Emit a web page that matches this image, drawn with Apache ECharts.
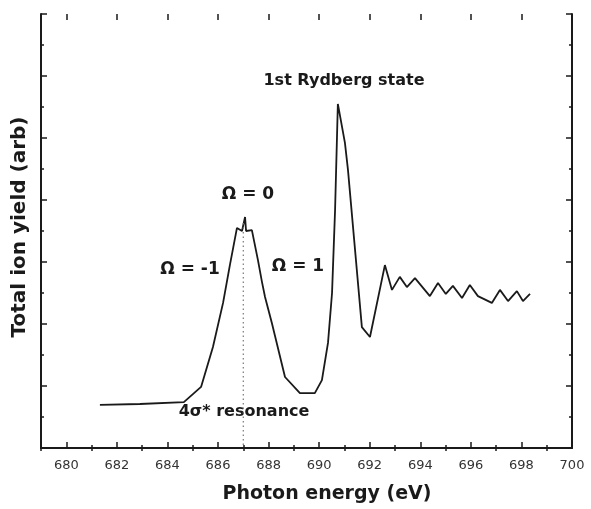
<!DOCTYPE html>
<html>
<head>
<meta charset="utf-8">
<script src="https://cdn.jsdelivr.net/npm/echarts@6/dist/echarts.min.js"></script>
<style>
html,body{margin:0;padding:0;background:#fff;}
#chart{width:591px;height:509px;}
</style>
</head>
<body>
<div id="chart"></div>
<script>
// Photon energy (eV) and total ion yield (arb)
const energy = [681.33, 682.91, 684.65, 685.33, 685.80, 686.20, 686.47, 686.75, 686.95, 687.07, 687.11, 687.34,
  687.58, 687.74, 687.86, 688.13, 688.65, 689.24, 689.83, 690.11, 690.35, 690.51, 690.63, 690.74,
  691.02, 691.14, 691.69, 692.01, 692.60, 692.88, 693.19, 693.47, 693.79, 694.38, 694.70, 695.01,
  695.29, 695.65, 695.96, 696.28, 696.83, 697.15, 697.47, 697.82, 698.06, 698.34];
const ionYield = [1.39, 1.42, 1.48, 1.97, 3.26, 4.68, 5.90, 7.10, 7.00, 7.45, 7.00, 7.03,
  6.06, 5.35, 4.87, 4.03, 2.29, 1.77, 1.77, 2.19, 3.39, 5.00, 7.68, 11.10,
  9.84, 8.97, 3.90, 3.58, 5.90, 5.10, 5.52, 5.19, 5.48, 4.90, 5.32, 4.97,
  5.23, 4.84, 5.26, 4.90, 4.68, 5.10, 4.74, 5.06, 4.74, 4.97];
// dotted marker of the 4σ* resonance
const resonanceX = [687, 687];
const resonanceY = [0.1, 7.3];
// tick values
const xMajorTicks = [680, 682, 684, 686, 688, 690, 692, 694, 696, 698, 700];
const xMinorTicks = [679, 681, 683, 685, 687, 689, 691, 693, 695, 697, 699];

const FONT = '"DejaVu Sans", "Liberation Sans", Arial, sans-serif';
const INK = '#1a1a1a';
const gridBox = {left: 41, right: 19, top: 14, bottom: 61};

function xAx(gridIndex, position, ticks, len, labels, line) {
  return {
    type: 'value', gridIndex: gridIndex, position: position, min: 679, max: 700,
    axisLine: {show: line, lineStyle: {color: INK, width: 2}},
    axisTick: {show: true, inside: true, length: len, customValues: ticks, lineStyle: {color: INK, width: 1.5}},
    axisLabel: labels ? {show: true, customValues: ticks, margin: 11, fontFamily: FONT, fontSize: 13, color: '#333'} : {show: false},
    splitLine: {show: false}
  };
}
function yAx(gridIndex, position, show) {
  return {
    type: 'value', gridIndex: gridIndex, position: position, min: 0, max: 14, interval: 2,
    show: show,
    axisLine: {show: true, lineStyle: {color: INK, width: 2}},
    axisTick: {show: true, inside: true, length: 6, lineStyle: {color: INK, width: 1.5}},
    minorTick: {show: true, splitNumber: 2, length: 3, lineStyle: {color: INK, width: 1.5}},
    axisLabel: {show: false},
    splitLine: {show: false}
  };
}
function label(text, x, y, size) {
  return {type: 'text', position: [x, y], style: {text: text, x: 0, y: 0, align: 'center', verticalAlign: 'middle', fontFamily: FONT, fontWeight: 'bold', fontSize: size, fill: INK}};
}

const chart = echarts.init(document.getElementById('chart'), null, {renderer: 'canvas'});
chart.setOption({
  animation: false,
  backgroundColor: '#fff',
  grid: [Object.assign({}, gridBox), Object.assign({}, gridBox)],
  xAxis: [
    xAx(0, 'bottom', xMinorTicks, 3, false, true),
    xAx(0, 'top', xMinorTicks, 3, false, true),
    xAx(1, 'bottom', xMajorTicks, 6, true, false),
    xAx(1, 'top', xMajorTicks, 6, false, false)
  ],
  yAxis: [
    yAx(0, 'left', true),
    yAx(0, 'right', true),
    yAx(1, 'left', false)
  ],
  series: [
    {
      type: 'line', xAxisIndex: 0, yAxisIndex: 0,
      data: energy.map((e, i) => [e, ionYield[i]]),
      showSymbol: false, symbol: 'none',
      lineStyle: {color: INK, width: 1.8}
    },
    {
      type: 'line', xAxisIndex: 0, yAxisIndex: 0,
      data: resonanceX.map((e, i) => [e, resonanceY[i]]),
      showSymbol: false, symbol: 'none',
      lineStyle: {color: '#777', width: 1.2, type: [1.5, 3]}
    }
  ],
  graphic: [
    label('Photon energy (eV)', 327, 494, 19),
    Object.assign(label('Total ion yield (arb)', 20, 227, 20), {rotation: Math.PI / 2}),
    label('1st Rydberg state', 344, 81, 16),
    label('Ω = 0', 248, 195, 17),
    label('Ω = -1', 190, 270, 17),
    label('Ω = 1', 298, 267, 17),
    label('4σ* resonance', 244, 412, 16)
  ]
});
</script>
</body>
</html>
